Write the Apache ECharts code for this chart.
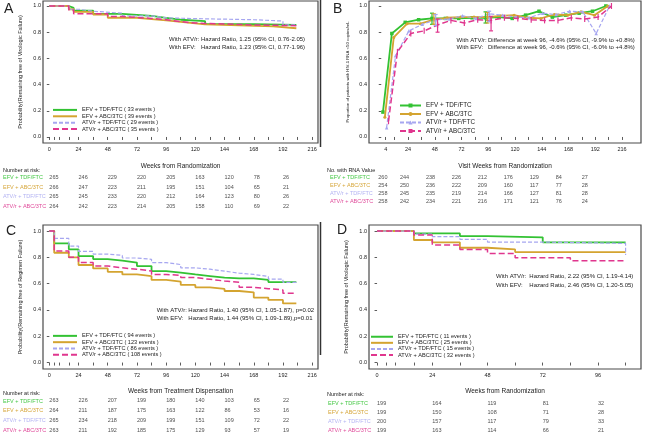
<!DOCTYPE html>
<html><head><meta charset="utf-8">
<script src="https://cdn.jsdelivr.net/npm/echarts@6/dist/echarts.min.js"></script>
<style>html,body{margin:0;padding:0;background:#fff}#c{width:646px;height:434px}</style>
</head><body><div id="c"></div>
<script>
// ---------- DATA ----------
const groups = ['EFV + TDF/FTC','EFV + ABC/3TC','ATV/r + TDF/FTC','ATV/r + ABC/3TC'];
const eventsA = [33, 39, 29, 35];
const eventsC = [94, 123, 86, 108];
const eventsD = [11, 25, 15, 32];

// Panel A: KM, virologic failure (weeks, survival)
const aGreenT = [0,16,20,36,60,84,96,108,128,168,203];
const aGreenS = [1,0.985,0.965,0.94,0.925,0.91,0.895,0.885,0.862,0.855,0.855];
const aOrangeT = [0,16,20,36,48,72,84,96,112,128,184,203];
const aOrangeS = [1,0.975,0.955,0.935,0.91,0.9,0.89,0.875,0.86,0.845,0.83,0.83];
const aLavT = [0,16,24,36,60,84,96,112,168,192,203];
const aLavS = [1,0.975,0.96,0.945,0.925,0.91,0.905,0.895,0.885,0.855,0.85];
const aPinkT = [0,16,20,48,60,84,96,108,120,168,203];
const aPinkS = [1,0.97,0.94,0.92,0.905,0.895,0.88,0.87,0.855,0.85,0.85];

// Panel B: proportion <50 copies by visit
const bVisits = [4,12,24,36,48,60,72,84,96,108,120,132,144,156,168,180,192,204];
const bGreen = [0.19,0.79,0.875,0.895,0.905,0.905,0.905,0.91,0.91,0.915,0.905,0.93,0.96,0.915,0.93,0.945,0.96,1.0];
const bOrange = [0.15,0.76,0.865,0.865,0.895,0.91,0.915,0.915,0.915,0.925,0.93,0.91,0.905,0.935,0.93,0.955,0.93,1.0];
const bLav = [0.07,0.62,0.81,0.86,0.895,0.9,0.925,0.905,0.94,0.93,0.915,0.91,0.945,0.935,0.96,0.955,0.79,1.0];
const bPink = [0.12,0.65,0.79,0.81,0.855,0.89,0.87,0.895,0.89,0.91,0.905,0.895,0.89,0.89,0.91,0.9,0.915,1.0];
const bErrWeeks = [48, 96];
const bErrLow = [[0.86,0.87],[0.86,0.87],[0.85,0.88],[0.80,0.81]];
const bErrHigh = [[0.945,0.955],[0.94,0.95],[0.935,0.96],[0.90,0.92]];

// Panel C: KM, regimen failure
const cT = [0,4,16,24,36,48,60,72,84,96,108,120,132,144,156,168,180,192,203];
const cGreenS = [1,0.906,0.861,0.81,0.787,0.775,0.76,0.734,0.696,0.684,0.67,0.658,0.646,0.64,0.64,0.628,0.612,0.612,0.612];
const cOrangeS = [1,0.835,0.80,0.742,0.716,0.69,0.67,0.658,0.628,0.615,0.59,0.572,0.56,0.544,0.534,0.494,0.476,0.45,0.45];
const cLavS = [1,0.944,0.886,0.845,0.825,0.815,0.795,0.785,0.76,0.745,0.72,0.71,0.695,0.68,0.67,0.655,0.635,0.61,0.61];
const cPinkS = [1,0.848,0.80,0.76,0.734,0.72,0.71,0.696,0.67,0.663,0.646,0.633,0.62,0.61,0.572,0.562,0.552,0.527,0.527];

// Panel D: KM, virologic failure (subgroup)
const dGreenT = [0,16,36,48,72,108];
const dGreenS = [1,0.982,0.962,0.952,0.914,0.914];
const dOrangeT = [0,16,24,36,48,60,108];
const dOrangeS = [1,0.932,0.914,0.873,0.86,0.84,0.84];
const dLavT = [0,16,24,36,48,72,108,108.01];
const dLavS = [1,0.977,0.957,0.937,0.916,0.906,0.906,0.818];
const dPinkT = [0,16,24,36,48,60,84,108];
const dPinkS = [1,0.97,0.894,0.86,0.83,0.797,0.775,0.775];

// Tick values
const kmTicks = [0,4,8,16,24,36,48,60,72,84,96,108,120,132,144,156,168,180,192,204,216];
const kmLabels = [0,24,48,72,96,120,144,168,192,216];
const bTicks = [4,12,24,36,48,60,72,84,96,108,120,132,144,156,168,180,192,204,216];
const bLabels = [4,24,48,72,96,120,144,168,192,216];
const dTicks = [0,4,8,16,24,36,48,60,72,84,96,108];
const dLabels = [0,24,48,72,96];
const yTicks = [0,0.2,0.4,0.6,0.8,1.0];

// At-risk tables
const riskWeeks = [0,24,48,72,96,120,144,168,192];
const riskA = [[265,246,229,220,205,163,120,78,26],[266,247,223,211,195,151,104,65,21],[265,245,233,220,212,164,123,80,26],[264,242,223,214,205,158,110,69,22]];
const rnaWeeks = [4,24,48,72,96,120,144,168,192];
const rnaB = [[260,244,238,226,212,176,129,84,27],[254,250,236,222,209,160,117,77,28],[258,245,235,219,214,166,127,81,28],[258,242,234,221,216,171,121,76,24]];
const riskC = [[263,226,207,199,180,140,103,65,22],[264,211,187,175,163,122,86,53,16],[265,234,218,209,199,151,109,72,22],[263,211,192,185,175,129,93,57,19]];
const riskWeeksD = [0,24,48,72,96];
const riskD = [[199,164,119,81,32],[199,150,108,71,28],[200,157,117,79,33],[199,163,114,66,21]];

// ---------- STYLE ----------
const FONT = 'Liberation Sans';
const lineColors = ['#33c233','#d4a430','#a6a6f0','#e0368e'];
const labelColors = ['#45c845','#d6a63a','#b2b2f2','#e04a9a'];
const lineTypes = ['solid','solid',[4,2],[6,3]];
const lineWidths = [1.8,1.8,1.2,1.5];

const chart = echarts.init(document.getElementById('c'), null, {renderer:'canvas', width:646, height:434});

function plotGrid(left, top, width, height){
  return {left, top, width, height, show:true, borderColor:'#4a4a4a', borderWidth:1.2, outerBoundsMode:'none'};
}
function tableGrid(left, top, width, height){
  return {left, top, width, height, show:false, outerBoundsMode:'none'};
}
function xPlot(gi, min, max, ticks, labels, name, nameGap){
  return {type:'value', gridIndex:gi, min, max, axisLine:{show:false}, splitLine:{show:false},
    axisTick:{show:true, customValues:ticks, length:3, lineStyle:{color:'#333', width:0.8}},
    axisLabel:{customValues:labels, fontSize:5.5, margin:3, color:'#222', fontFamily:FONT},
    name, nameLocation:'middle', nameGap, nameTextStyle:{fontSize:6.5, color:'#222', fontFamily:FONT}};
}
function yPlot(gi, min, max, name, nameGap, nameSize){
  return {type:'value', gridIndex:gi, min, max, axisLine:{show:false}, splitLine:{show:false},
    axisTick:{show:true, customValues:yTicks, length:2.5, lineStyle:{color:'#333', width:0.8}},
    axisLabel:{customValues:yTicks, fontSize:5.5, margin:2, color:'#222', fontFamily:FONT, formatter:v=>v.toFixed(1)},
    name, nameLocation:'middle', nameGap, nameRotate:90, nameTextStyle:{fontSize:nameSize, color:'#222', fontFamily:FONT}};
}
function xTable(gi, min, max){ return {type:'value', gridIndex:gi, min, max, show:false}; }
function yTable(gi){
  return {type:'category', gridIndex:gi, inverse:true, data:groups, show:false};
}
function pairs(t, s){ return t.map((w,i)=>[w, s[i]]); }
function kmSeries(name, t, s, k, axis){
  return {type:'line', name, step:'end', xAxisIndex:axis, yAxisIndex:axis, data:pairs(t,s), symbol:'none',
    lineStyle:{color:lineColors[k], width:lineWidths[k], type:lineTypes[k]}, itemStyle:{color:lineColors[k]}, silent:true, z:3+k};
}
function tableSeries(axis, weeks, rows){
  const data = [];
  rows.forEach((r,i)=>r.forEach((v,j)=>data.push([weeks[j], groups[i], v])));
  return {type:'scatter', xAxisIndex:axis, yAxisIndex:axis, data, symbolSize:0, silent:true,
    label:{show:true, position:'right', distance:0, formatter:p=>String(p.value[2]), fontSize:5.5, color:'#222', fontFamily:FONT}};
}

const seriesA = [[aGreenT,aGreenS],[aOrangeT,aOrangeS],[aLavT,aLavS],[aPinkT,aPinkS]];
const namesA = groups.map((g,i)=>g+' ( '+eventsA[i]+' events )');
const namesC = groups.map((g,i)=>g+' ( '+eventsC[i]+' events )');
const namesD = groups.map((g,i)=>g+' ( '+eventsD[i]+' events )');
const cAll = [cGreenS,cOrangeS,cLavS,cPinkS];
const dAll = [[dGreenT,dGreenS],[dOrangeT,dOrangeS],[dLavT,dLavS],[dPinkT,dPinkS]];
const bAll = [bGreen,bOrange,bLav,bPink];
const bDodge = [-2.5,-0.8,0.8,2.5];
const bSymbols = ['rect','circle','triangle','path://M0,0L1,0L1,10L0,10Z'];
const bSymSize = [3.5,3,3.5,[1.2,6]];

const series = [];
seriesA.forEach((p,k)=>series.push(kmSeries(namesA[k], p[0], p[1], k, 0)));
bAll.forEach((vals,k)=>{
  series.push({type:'line', name:groups[k], xAxisIndex:1, yAxisIndex:1,
    data:bVisits.map((w,i)=>[w+bDodge[k], vals[i]]), symbol:bSymbols[k], symbolSize:bSymSize[k], showSymbol:true,
    lineStyle:{color:lineColors[k], width:lineWidths[k], type:lineTypes[k]}, itemStyle:{color:lineColors[k]}, silent:true, z:3+k});
  series.push({type:'custom', xAxisIndex:1, yAxisIndex:1, silent:true, z:8,
    data:bErrWeeks.map((w,i)=>[w+bDodge[k], bErrLow[k][i], bErrHigh[k][i]]),
    renderItem:(params, api)=>{
      const lo = api.coord([api.value(0), api.value(1)]);
      const hi = api.coord([api.value(0), api.value(2)]);
      const st = {stroke:lineColors[k], lineWidth:1.2};
      return {type:'group', children:[
        {type:'line', shape:{x1:lo[0],y1:lo[1],x2:hi[0],y2:hi[1]}, style:st},
        {type:'line', shape:{x1:lo[0]-2,y1:lo[1],x2:lo[0]+2,y2:lo[1]}, style:st},
        {type:'line', shape:{x1:hi[0]-2,y1:hi[1],x2:hi[0]+2,y2:hi[1]}, style:st}]};
    }});
});
cAll.forEach((s,k)=>series.push(kmSeries(namesC[k], cT, s, k, 2)));
dAll.forEach((p,k)=>series.push(kmSeries(namesD[k], p[0], p[1], k, 3)));
series.push(tableSeries(4, riskWeeks, riskA));
series.push(tableSeries(5, rnaWeeks, rnaB));
series.push(tableSeries(6, riskWeeks, riskC));
series.push(tableSeries(7, riskWeeksD, riskD));

function legend(names, left, top, ih, iw, fs, gap, hideSym){
  const l = {data:names, orient:'vertical', left, top, itemWidth:iw, itemHeight:ih, itemGap:gap, padding:0,
    selectedMode:false, textStyle:{fontSize:fs, color:'#222', fontFamily:FONT}};
  if (hideSym) l.itemStyle = {opacity:0};
  return l;
}
function txt(x, y, text, size, fill){
  return {type:'text', x, y, silent:true, style:{text, fontSize:size||6, fontFamily:FONT, fill:fill||'#222', verticalAlign:'middle'}};
}
function rowLabels(x, ys){ return groups.map((g,i)=>txt(x, ys[i], g, 5.5, labelColors[i])); }

const option = {
  animation:false,
  backgroundColor:'#fff',
  textStyle:{fontFamily:FONT},
  grid:[plotGrid(43,1,275,142), plotGrid(369,1,272,142), plotGrid(43,225,275,144), plotGrid(369,225,272,144),
        tableGrid(43,173,275,38), tableGrid(369,174,272,31), tableGrid(43,396,275,39), tableGrid(369,398.5,272,36)],
  xAxis:[xPlot(0,-5.2,220.8,kmTicks,kmLabels,'Weeks from Randomization',20),
         xPlot(1,-11,233,bTicks,bLabels,'Visit Weeks from Randomization',20),
         xPlot(2,-5.2,220.8,kmTicks,kmLabels,'Weeks from Treatment Dispensation',19),
         xPlot(3,-3.5,114.7,dTicks,dLabels,'Weeks from Randomization',19),
         xTable(4,-5.2,220.8), xTable(5,-4.6,246.9), xTable(6,-5.2,220.8), xTable(7,-3.5,114.7)],
  yAxis:[yPlot(0,-0.046,1.038,'Probability(Remaining free of Virologic Failure)',20,5.5),
         yPlot(1,-0.046,1.038,'Proportion of patients with HIV-1 RNA <50 copies/mL',19,4.3),
         yPlot(2,-0.049,1.046,'Probability(Remaining free of Regimen Failure)',20,5.5),
         yPlot(3,-0.049,1.046,'Probability(Remaining free of Virologic Failure)',20,5.5),
         yTable(4), yTable(5), yTable(6), yTable(7)],
  legend:[legend(namesA,52,106.7,8,24,5.6,0,true), legend(groups,399,102.5,5,21,6.3,2.5,false),
          legend(namesC,52,332.7,7.9,24,5.6,0,true), legend(namesD,370,333.7,7.6,22,5.6,0,true)],
  series,
  graphic:[
    txt(4,9,'A',14), txt(333,9,'B',14), txt(6,231,'C',14), txt(337,230,'D',14),
    txt(169,39.7,'With ATV/r:'), txt(201,39.7,'Hazard Ratio, 1.25 (95% CI, 0.76-2.05)'),
    txt(169,47.7,'With EFV:'), txt(201,47.7,'Hazard Ratio, 1.23 (95% CI, 0.77-1.96)'),
    txt(456.5,40,'With ATV/r:'), txt(488,40,'Difference at week 96, -4.6% (95% CI, -9.9% to +0.8%)'),
    txt(456.5,47.7,'With EFV:'), txt(488,47.7,'Difference at week 96, -0.6% (95% CI, -6.0% to +4.8%)'),
    txt(156.7,310.7,'With ATV/r:'), txt(188.3,310.7,'Hazard Ratio, 1.40 (95% CI, 1.05-1.87), p=0.02'),
    txt(156.7,318.3,'With EFV:'), txt(188.3,318.3,'Hazard Ratio, 1.44 (95% CI, 1.09-1.89),p=0.01'),
    txt(496,276.7,'With ATV/r:'), txt(529.3,276.7,'Hazard Ratio, 2.22 (95% CI, 1.19-4.14)'),
    txt(496,285,'With EFV:'), txt(529.3,285,'Hazard Ratio, 2.46 (95% CI, 1.20-5.05)'),
    txt(3,170,'Number at risk:',5.5), txt(327,170,'No. with RNA Value',5.5),
    txt(3,393.3,'Number at risk:',5.5), txt(327,394,'Number at risk:',5.5),
    ...rowLabels(3,[177.7,187,196.7,206]),
    ...rowLabels(330,[177.7,185.7,193.3,201.3]),
    ...rowLabels(3,[401,410.7,420.5,430]),
    ...rowLabels(328,[403,412,421,430]),
    {type:'line', silent:true, shape:{x1:320.5,y1:0,x2:320.5,y2:147}, style:{stroke:'#333', lineWidth:1.5}},
    {type:'line', silent:true, shape:{x1:320.5,y1:222,x2:320.5,y2:355}, style:{stroke:'#333', lineWidth:1.5}}
  ]
};
chart.setOption(option);
</script></body></html>
